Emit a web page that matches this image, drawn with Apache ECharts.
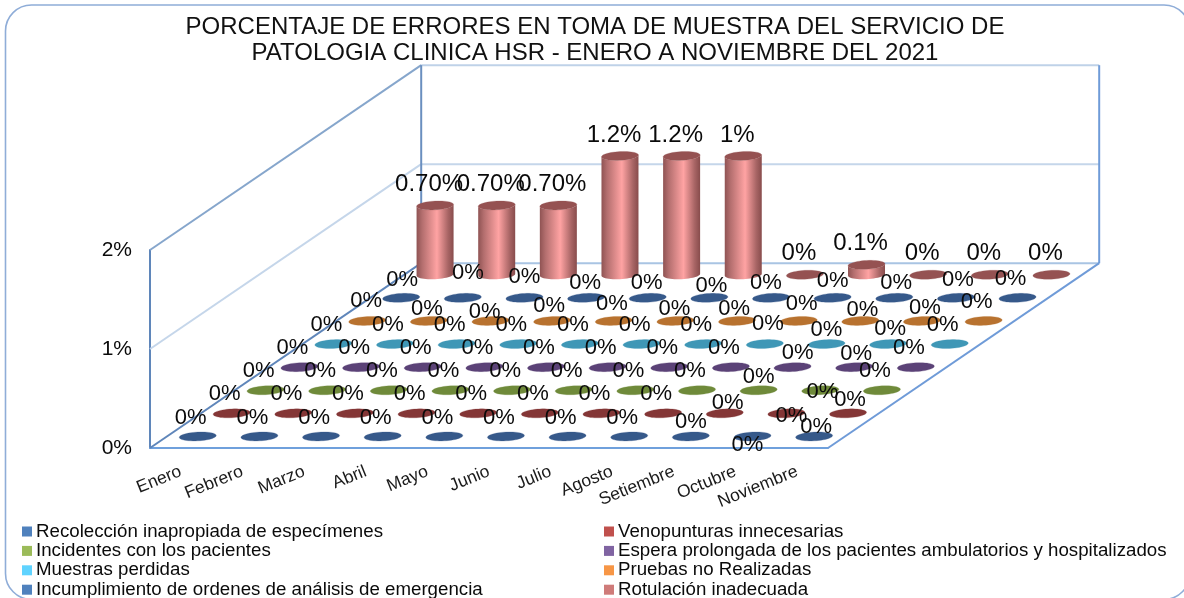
<!DOCTYPE html>
<html><head><meta charset="utf-8">
<style>html,body{margin:0;padding:0;background:#fff}#c{width:1184px;height:598px}</style>
<script src="https://cdn.jsdelivr.net/npm/echarts@6/dist/echarts.min.js"></script>
</head><body><div id="c"></div>
<script>
const categories = ['Enero','Febrero','Marzo','Abril','Mayo','Junio','Julio','Agosto','Setiembre','Octubre','Noviembre'];
const titleLines = ['PORCENTAJE DE ERRORES EN TOMA DE MUESTRA DEL SERVICIO DE','PATOLOGIA CLINICA HSR - ENERO A NOVIEMBRE DEL 2021'];
const seriesNames = ['Recolección inapropiada de especímenes','Venopunturas innecesarias','Incidentes con los pacientes','Espera prolongada de los pacientes ambulatorios y hospitalizados','Muestras perdidas','Pruebas no Realizadas','Incumplimiento de ordenes de análisis de emergencia','Rotulación inadecuada'];
const recoleccion    = [0,0,0,0,0,0,0,0,0,0,0];
const venopunturas   = [0,0,0,0,0,0,0,0,0,0,0];
const incidentes     = [0,0,0,0,0,0,0,0,0,0,0];
const espera         = [0,0,0,0,0,0,0,0,0,0,0];
const muestras       = [0,0,0,0,0,0,0,0,0,0,0];
const pruebas        = [0,0,0,0,0,0,0,0,0,0,0];
const incumplimiento = [0,0,0,0,0,0,0,0,0,0,0];
const rotulacion     = [0.7,0.7,0.7,1.2,1.2,1.2,0,0.1,0,0,0];
const rotulacionLabels = ['0.70%','0.70%','0.70%','1.2%','1.2%','1%','0%','0.1%','0%','0%','0%'];
const allValues = [recoleccion,venopunturas,incidentes,espera,muestras,pruebas,incumplimiento,rotulacion];

// styling
const FONT = '"Liberation Sans", Arial, sans-serif';
const legendColors = ['#4f81bd','#c0504d','#9bbb59','#8064a2','#5fd3ff','#f79646','#4f81bd','#cf7b79'];
const discColors   = ['#36598a','#843636','#6f8a3a','#5b4277','#3f97b6','#b8722f','#36598a','#955252'];
// oblique projection: pixel shift of one series row into the depth of the chart
const DEPTH = [33.9, -23.1];
const RX = 18.5, RY = 4.4, SHEAR = 0.05;
// hand-moved data labels of the original: [series][category] -> pixel offset from its mark
const defaultOffset = [-7,-19];
const labelOffsets = {
  0:{8:[0,-15],9:[-5,8],10:[2,-10]},
  1:{8:[3,-10],9:[5,3],10:[2,-13]},
  2:{8:[0,-13],9:[2,2]},
  3:{8:[5,-14],9:[2,-13]},
  4:{7:[3,-20],8:[0,-14],9:[2,-15]},
  5:{0:[-1,-20],1:[-2,-12],2:[-6,-9],3:[-3,-15],4:[-2,-17],5:[-1,-12],6:[-3,-12],7:[3,-17],8:[2,-11],9:[3,-13]},
  6:{0:[1,-18],1:[5,-25],2:[0,-21],3:[-1,-15],4:[-1,-15],5:[2,-12],6:[-5,-15],7:[0,-17],8:[2,-15],9:[2,-18]}
};

function projector(api){
  const o = api.coord([0,0]);
  const band = api.coord([1,0])[0]-o[0];
  const unit = o[1]-api.coord([0,1])[1];
  // cat: category position (may be fractional), depth: series rows, val: percent
  return (cat,depth,val)=>[o[0]+cat*band+depth*DEPTH[0], o[1]-val*unit+depth*DEPTH[1]];
}
function ring(c,from,to,n){
  const pts=[];
  for(let k=0;k<=n;k++){
    const t=from+(to-from)*k/n, x=RX*Math.cos(t);
    pts.push([c[0]+x, c[1]+RY*Math.sin(t)-SHEAR*x]);
  }
  return pts;
}
function disc(c,color,z2){
  return {type:'polygon',z2:z2,shape:{points:ring(c,0,Math.PI*2,48)},
    style:{fill:color,stroke:color,strokeOpacity:0.25,lineWidth:1}};
}
const rotulacionSide = new echarts.graphic.LinearGradient(0,0,1,0,[
  {offset:0,color:'#8f5353'},{offset:0.15,color:'#b36e6e'},{offset:0.55,color:'#ffa3a3'},
  {offset:0.85,color:'#a86565'},{offset:1,color:'#884c4c'}]);

function renderMark(j){
  return function(params,api){
    const P=projector(api), i=api.value(0), v=api.value(1);
    const base=P(i,j+0.5,0), top=P(i,j+0.5,v);
    const kids=[];
    if(v>0){
      const side=ring(base,Math.PI,0,24).concat(ring(top,0,Math.PI,24));
      kids.push({type:'polygon',z2:20-2*j,shape:{points:side},style:{fill:rotulacionSide}});
    }
    kids.push(disc(top,discColors[j],21-2*j));
    const isBack=j===7;
    const off=isBack?[-6,-21]:((labelOffsets[j]&&labelOffsets[j][i])||defaultOffset);
    kids.push({type:'text',z2:100,style:{
      text:isBack?rotulacionLabels[i]:(v+'%'),
      x:top[0]+off[0],y:top[1]+off[1],align:'center',verticalAlign:'middle',
      fontFamily:FONT,fontSize:isBack?24:22,fill:'#0a0a0a'}});
    return {type:'group',children:kids};
  };
}
function renderFrame(params,api){
  const n=categories.length, d=seriesNames.length;
  const P=projector(api);
  const line=(a,b,color,w)=>({type:'line',shape:{x1:a[0],y1:a[1],x2:b[0],y2:b[1]},style:{stroke:color,lineWidth:w}});
  const bl=-0.5, br=n-0.5;
  return {type:'group',children:[
    line(P(bl,d,2),P(br,d,2),'#bfd2e8',2),
    line(P(bl,d,1),P(br,d,1),'#c5d6ea',2),
    line(P(bl,d,0),P(br,d,0),'#a9c4e3',2),
    line(P(bl,0,1),P(bl,d,1),'#c5d6ea',2),
    line(P(bl,0,2),P(bl,d,2),'#86a6cc',2),
    line(P(bl,d,0),P(bl,d,2),'#6a8fbf',2),
    line(P(br,d,0),P(br,d,2),'#6f9bd8',2),
    line(P(bl,0,0),P(bl,d,0),'#5f86ba',2),
    line(P(br,0,0),P(br,d,0),'#6f9bd8',2)
  ]};
}
const marks = allValues.map((vals,j)=>({
  type:'custom',name:seriesNames[j],coordinateSystem:'cartesian2d',z:3,silent:true,
  itemStyle:{color:legendColors[j]},
  data:vals.map((v,i)=>[i,v]),renderItem:renderMark(j)
}));
const legendBase = {orient:'vertical',icon:'rect',itemWidth:10,itemHeight:10,itemGap:0.4,top:522,height:120,
  selectedMode:false,textStyle:{fontFamily:FONT,fontSize:18.7,color:'#0a0a0a',padding:[0,0,0,-1]},padding:0};

const chart=echarts.init(document.getElementById('c'),null,{renderer:'canvas'});
chart.setOption({
  animation:false,backgroundColor:'#fff',
  title:{text:titleLines.join('\n'),left:590,top:9,textAlign:'center',
    textStyle:{fontFamily:FONT,fontSize:24,fontWeight:'normal',color:'#111',lineHeight:26}},
  grid:{left:150,right:356,top:250,bottom:150},
  xAxis:{type:'category',data:categories,boundaryGap:true,
    axisLine:{show:true,lineStyle:{color:'#6fa0dc',width:2}},axisTick:{show:false},
    axisLabel:{rotate:22,margin:23,interval:0,fontFamily:FONT,fontSize:17.5,color:'#1a1a1a'}},
  yAxis:{type:'value',min:0,max:2,interval:1,
    axisLine:{show:true,lineStyle:{color:'#5f86ba',width:2}},axisTick:{show:false},splitLine:{show:false},
    axisLabel:{formatter:'{value}%',margin:18,fontFamily:FONT,fontSize:21,color:'#0a0a0a'}},
  legend:[
    Object.assign({},legendBase,{left:22,data:[0,2,4,6].map(k=>seriesNames[k])}),
    Object.assign({},legendBase,{left:604,data:[1,3,5,7].map(k=>seriesNames[k])})
  ],
  graphic:[{type:'rect',silent:true,z:-1,shape:{x:5.5,y:5,width:1184.5,height:594.4,r:26},
    style:{fill:'none',stroke:'#8fadd8',lineWidth:1.6}}],
  series:[{type:'custom',name:'marco',coordinateSystem:'cartesian2d',z:1,silent:true,data:[[0,0]],renderItem:renderFrame}].concat(marks)
});
</script></body></html>
